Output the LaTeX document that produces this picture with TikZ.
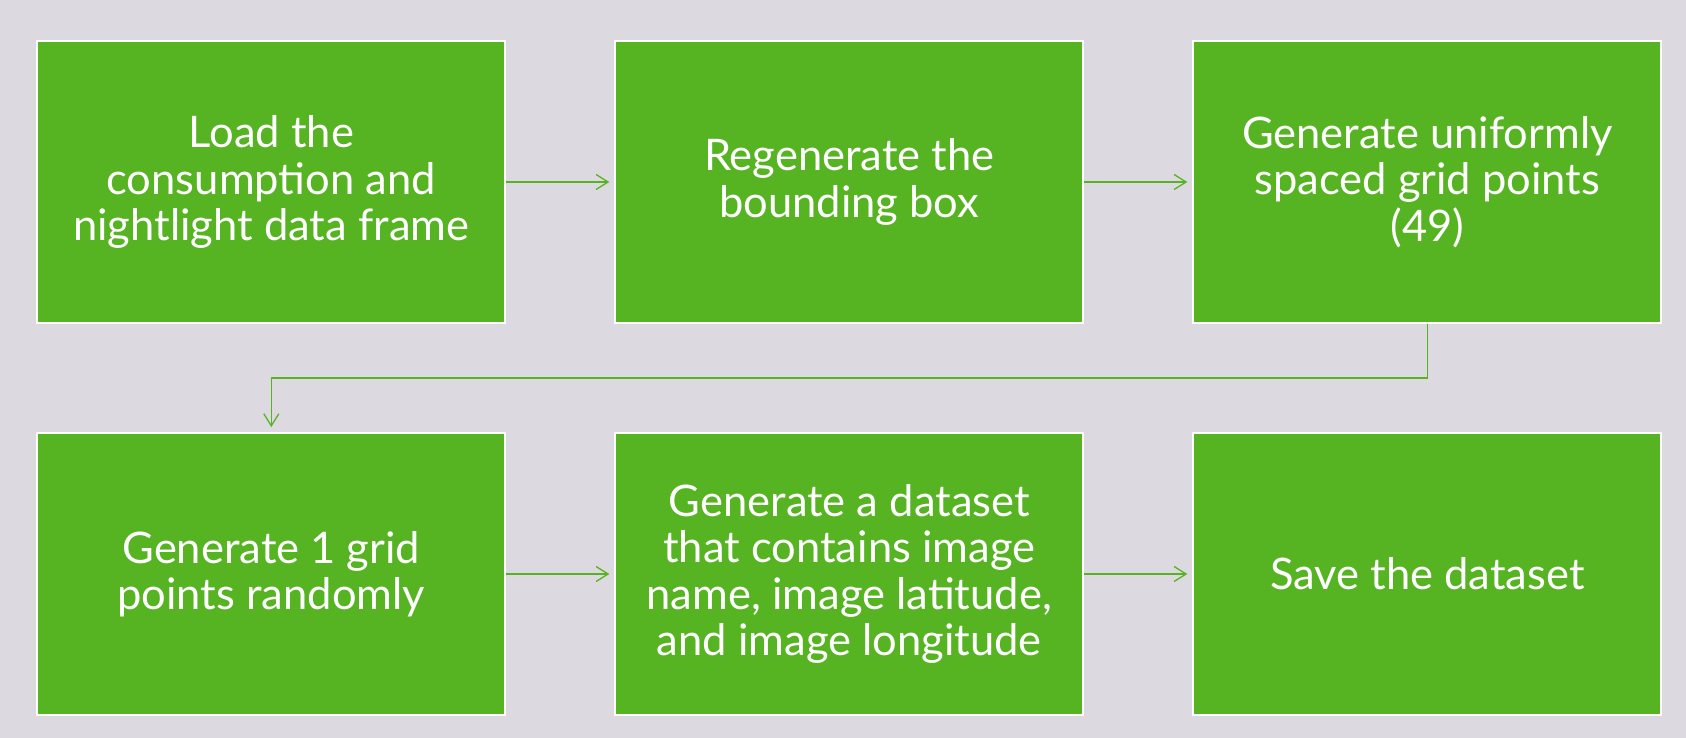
\documentclass[tikz,border=0pt]{standalone}
\usepackage{fontspec}
\setmainfont{Lato}
\usepackage{tikz}
\usetikzlibrary{positioning, arrows.meta}
\definecolor{bggrey}{RGB}{221,217,224}
\definecolor{stepgreen}{RGB}{86,179,34}
\tikzstyle{process} = [rectangle, 
minimum width=468pt, 
minimum height=282pt, 
text centered,
align=center,
draw=white, 
line width=2pt,
fill=stepgreen,
text=white,
font=\fontsize{43.5}{46.5}\selectfont]
\tikzstyle{flow} = [-{Straight Barb[length=12pt,width=15pt,line width=1.3pt]},
draw=stepgreen,
line width=1.3pt,
shorten >=5pt]

\begin{document}
\begin{tikzpicture}[node distance=108pt]
\fill[bggrey] (-271.3pt,182pt) rectangle (1414.7pt,-556pt);
\useasboundingbox (-271.3pt,182pt) rectangle (1414.7pt,-556pt);
\node (load) [process] {Load the\\consumption and\\nightlight data frame};
\node (bbox) [process, right=of load] {Regenerate the\\bounding box};
\node (grid) [process, right=of bbox] {Generate uniformly\\spaced grid points\\(49)};
\node (rand) [process, below=of load] {Generate 1 grid\\points randomly};
\node (dataset) [process, right=of rand] {Generate a dataset\\that contains image\\name, image latitude,\\and image longitude};
\node (save) [process, right=of dataset] {Save the dataset};

\draw [flow] (load) -- (bbox);
\draw [flow] (bbox) -- (grid);
\draw [flow] (grid.south) -- ++(0,-54pt) -| (rand.north);
\draw [flow] (rand) -- (dataset);
\draw [flow] (dataset) -- (save);
\end{tikzpicture}
\end{document}
